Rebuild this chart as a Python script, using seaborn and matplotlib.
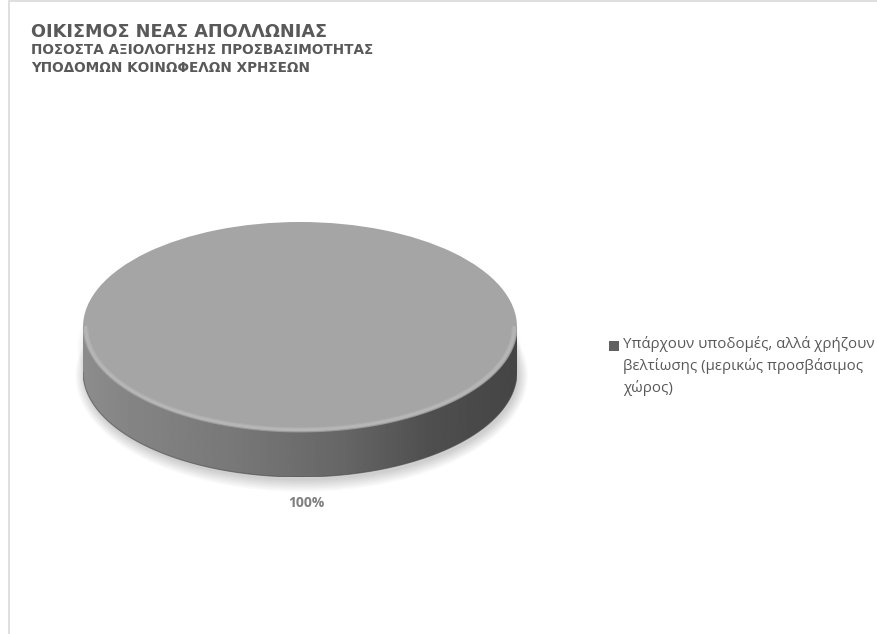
import numpy as np
import matplotlib
matplotlib.use('Agg')
import matplotlib.pyplot as plt
import seaborn as sns
from matplotlib.patches import PathPatch, Rectangle, Ellipse
from matplotlib.path import Path

# ---- data ----
categories = ["Υπάρχουν υποδομές, αλλά χρήζουν\nβελτίωσης (μερικώς προσβάσιμος\nχώρος)"]
values = [100]
slice_colors = ["#a5a5a5"]
title_main = "ΟΙΚΙΣΜΟΣ ΝΕΑΣ ΑΠΟΛΛΩΝΙΑΣ"
title_sub = ["ΠΟΣΟΣΤΑ ΑΞΙΟΛΟΓΗΣΗΣ ΠΡΟΣΒΑΣΙΜΟΤΗΤΑΣ", "ΥΠΟΔΟΜΩΝ ΚΟΙΝΩΦΕΛΩΝ ΧΡΗΣΕΩΝ"]

sns.set_theme(style="white")
plt.rcParams["font.family"] = ["Open Sans", "DejaVu Sans"]

W, H = 878, 634
fig = plt.figure(figsize=(W / 100, H / 100), dpi=100)
fig.patch.set_facecolor("white")


def fx(px):
    return px / W


def fy(py):
    return 1 - py / H


# chart border (cropped on right and bottom)
fig.add_artist(Rectangle((fx(9.5), -0.1), 1.2, fy(1.5) + 0.1, fill=False,
                         edgecolor="#d9d9d9", linewidth=1.2,
                         transform=fig.transFigure))

# titles
tfam = ["DejaVu Sans"]
fig.text(fx(31), fy(37), title_main, fontsize=12.7, fontweight="bold",
         color="#595959", va="baseline", family=tfam)
fig.text(fx(31), fy(54), title_sub[0], fontsize=9.8, fontweight="bold",
         color="#595959", va="baseline", family=tfam)
fig.text(fx(31), fy(72), title_sub[1], fontsize=9.8, fontweight="bold",
         color="#595959", va="baseline", family=tfam)

# ---- pie (3D look) ----
t = 0.43  # thickness in y units of the top ellipse
ax = fig.add_axes([fx(83), fy(477), fx(434), 255 / H])
wedges, _ = ax.pie(values, colors=slice_colors, radius=1, startangle=90,
                   counterclock=False, wedgeprops=dict(linewidth=0, zorder=3))

th = np.linspace(np.pi, 2 * np.pi, 400)
# soft shadow under the disc
for i in range(8):
    ax.add_patch(Ellipse((0.008, -t - 0.035), 2.0 + 0.012 * i, 2.0 + 0.03 * i,
                         facecolor="black", edgecolor="none", alpha=0.022,
                         zorder=1, clip_on=False))
for i in range(5):
    ax.add_patch(Ellipse((-0.004, -0.2), 2.0 + 0.012 * i, 2.0 + 0.02 * i,
                         facecolor="black", edgecolor="none", alpha=0.012,
                         zorder=1, clip_on=False))

# side wall
top = np.c_[np.cos(th), np.sin(th)]
bot = np.c_[np.cos(th[::-1]), np.sin(th[::-1]) - t]
verts = np.vstack([top, bot, top[:1]])
codes = [Path.MOVETO] + [Path.LINETO] * (len(verts) - 2) + [Path.CLOSEPOLY]
side = PathPatch(Path(verts, codes), facecolor="none", edgecolor="none")
ax.add_patch(side)
xs = np.linspace(-1, 1, 500)
shade = np.interp(xs, [-1, -0.8, -0.3, 0.2, 0.6, 1],
                  [0.55, 0.52, 0.47, 0.40, 0.31, 0.27])
grad = np.tile(shade, (60, 1))
im = ax.imshow(grad, cmap="gray", vmin=0, vmax=1, extent=(-1, 1, -1 - t, 0),
               aspect="auto", zorder=2, interpolation="bilinear")
im.set_clip_path(side)
# dark bottom edge of side
ax.plot(np.cos(th), np.sin(th) - t, color="#4a4a4a", lw=0.8, alpha=0.6, zorder=2.6)

# bevel: soft highlight band along the front rim of the top
for k, (r, a) in enumerate([(0.995, 0.25), (0.985, 0.45), (0.975, 0.45), (0.965, 0.25)]):
    ax.plot(np.cos(th) * (1 - (1 - r) * 0.6), np.sin(th) * r, color="#c2c2c2",
            lw=1.4, alpha=a, zorder=4)
ax.plot(np.cos(th), np.sin(th), color="#8a8a8a", lw=1.0, alpha=0.8, zorder=3.5)

ax.set_aspect("auto")
ax.set_xlim(-1, 1)
ax.set_ylim(-1 - t, 1)
ax.axis("off")

# data label
pct = values[0] / sum(values) * 100
fig.text(fx(306), fy(503), f"{pct:.0f}%", ha="center", va="center",
         fontsize=10, fontweight="bold", color="#7f7f7f")

# legend (marker + wrapped label)
fig.add_artist(Rectangle((fx(609), fy(351)), fx(10), 10 / H,
                         facecolor="#616161", edgecolor="none",
                         transform=fig.transFigure))
fig.text(fx(623), fy(336), categories[0], fontsize=10.8, color="#595959",
         va="top", ha="left", linespacing=1.5)

fig.savefig("out.png", dpi=100)
